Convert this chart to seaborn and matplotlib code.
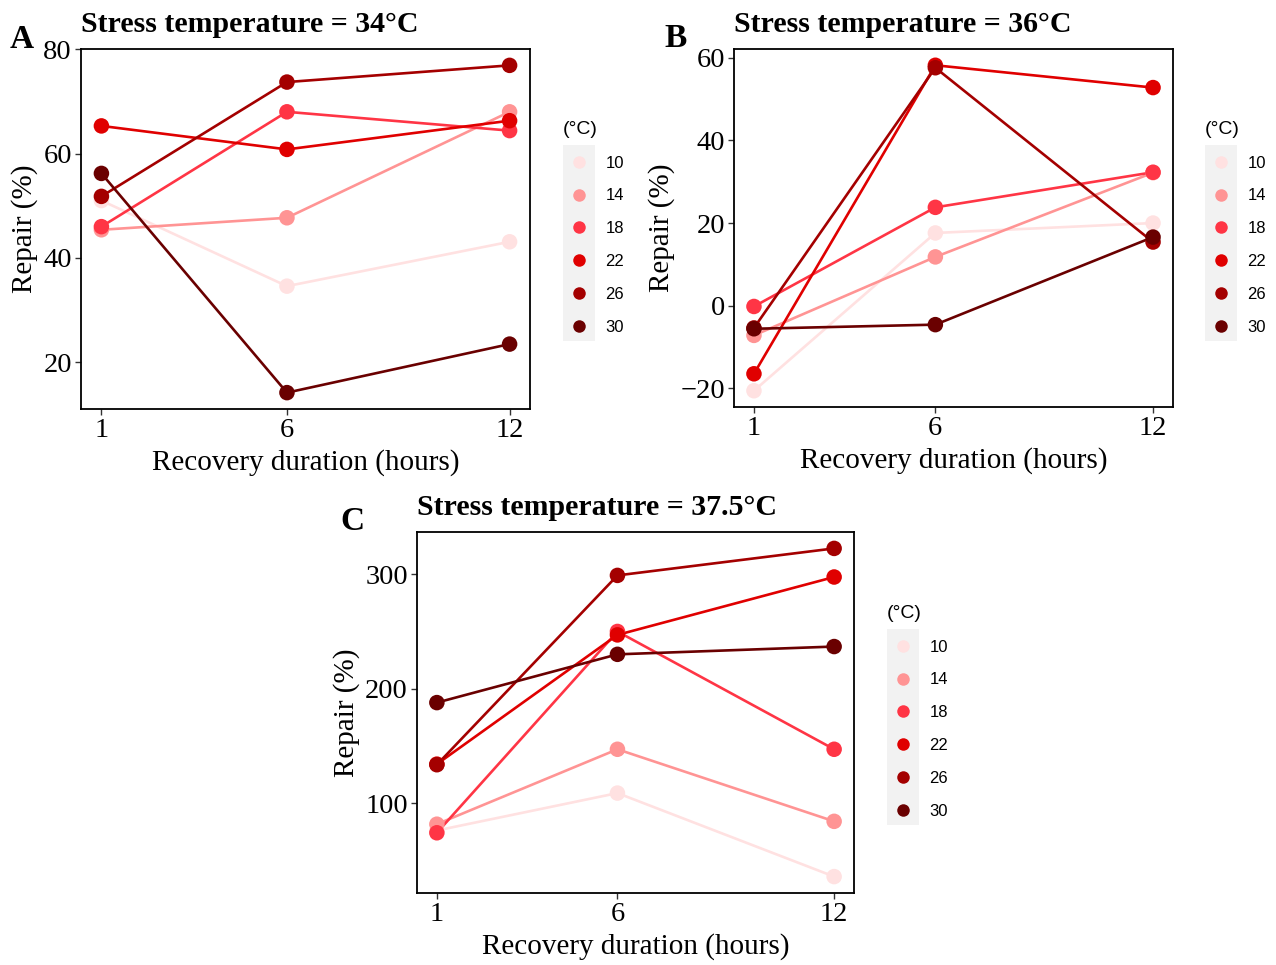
import numpy as np
import pandas as pd
import matplotlib
matplotlib.use("Agg")
import matplotlib.pyplot as plt
from matplotlib.lines import Line2D
from matplotlib.patches import Rectangle
import seaborn as sns

# ---------------- data ----------------
hours = [1, 6, 12]
acclim_temps = [10, 14, 18, 22, 26, 30]
palette_colors = ["#FFE1E1", "#FF9494", "#FF3545", "#E00000", "#A40000", "#6A0000"]

# Stress temperature = 34 °C  (values at 1, 6, 12 h)
repair_34_t10 = [51.0, 34.6, 43.1]
repair_34_t14 = [45.4, 47.7, 68.0]
repair_34_t18 = [46.0, 68.0, 64.4]
repair_34_t22 = [65.3, 60.8, 66.3]
repair_34_t26 = [51.8, 73.7, 76.9]
repair_34_t30 = [56.2, 14.2, 23.5]

# Stress temperature = 36 °C
repair_36_t10 = [-20.6, 17.6, 20.0]
repair_36_t14 = [-7.2, 11.8, 32.2]
repair_36_t18 = [-0.2, 23.8, 32.3]
repair_36_t22 = [-16.5, 58.2, 52.8]
repair_36_t26 = [-5.4, 57.6, 15.4]
repair_36_t30 = [-5.6, -4.6, 16.6]

# Stress temperature = 37.5 °C
repair_375_t10 = [76.0, 108.7, 35.7]
repair_375_t14 = [81.5, 147.0, 84.0]
repair_375_t18 = [74.0, 250.0, 147.0]
repair_375_t22 = [134.0, 247.0, 297.6]
repair_375_t26 = [133.5, 299.0, 322.6]
repair_375_t30 = [187.8, 230.0, 236.8]

panels = [
    ("A", "Stress temperature = 34°C",
     [repair_34_t10, repair_34_t14, repair_34_t18, repair_34_t22, repair_34_t26, repair_34_t30],
     [20, 40, 60, 80]),
    ("B", "Stress temperature = 36°C",
     [repair_36_t10, repair_36_t14, repair_36_t18, repair_36_t22, repair_36_t26, repair_36_t30],
     [-20, 0, 20, 40, 60]),
    ("C", "Stress temperature = 37.5°C",
     [repair_375_t10, repair_375_t14, repair_375_t18, repair_375_t22, repair_375_t26, repair_375_t30],
     [100, 200, 300]),
]

def make_df(series):
    rows = []
    for t, vals in zip(acclim_temps, series):
        for h, v in zip(hours, vals):
            rows.append({"hours": h, "temp": str(t), "repair": v})
    return pd.DataFrame(rows)

# ---------------- style ----------------
sns.set_theme(style="white")
plt.rcParams["font.family"] = ["Liberation Serif", "DejaVu Serif"]
plt.rcParams["text.color"] = "black"
plt.rcParams["axes.labelcolor"] = "black"
plt.rcParams["axes.titlecolor"] = "black"
palette = {str(t): c for t, c in zip(acclim_temps, palette_colors)}
hue_order = [str(t) for t in acclim_temps]

W, H = 1276, 965
fig = plt.figure(figsize=(W / 100, H / 100), dpi=100)

def px_axes(left, top, right, bottom):
    return fig.add_axes([left / W, 1 - bottom / H, (right - left) / W, (bottom - top) / H])

layout = [
    dict(ax=(81, 49, 530, 409), leg=(563, 121), rect=(563, 145, 595, 341), letter=(10, 48)),
    dict(ax=(734, 49, 1173, 407), leg=(1205, 121), rect=(1205, 145, 1237, 341), letter=(664, 47)),
    dict(ax=(417, 532, 854, 893), leg=(887, 605), rect=(887, 629, 919, 825), letter=(340, 530)),
]

for (letter, title, series, yticks), lay in zip(panels, layout):
    df = make_df(series)
    ax = px_axes(*lay["ax"])
    sns.lineplot(data=df, x="hours", y="repair", hue="temp", hue_order=hue_order,
                 palette=palette, linewidth=1.9, legend=False, ax=ax, estimator=None)
    sns.scatterplot(data=df, x="hours", y="repair", hue="temp", hue_order=hue_order,
                    palette=palette, s=125, linewidth=0, legend=False, ax=ax, zorder=3)
    ax.set_xticks(hours)
    ax.set_yticks(yticks)
    ax.tick_params(axis="both", which="both", direction="out", length=4, width=1.0,
                   color="#333333", labelsize=20.5, labelcolor="black", pad=2.5,
                   bottom=True, left=True)
    for sp in ax.spines.values():
        sp.set_color("black")
        sp.set_linewidth(1.3)
    ax.set_xlabel("Recovery duration (hours)", fontsize=21, labelpad=4)
    ax.set_ylabel("Repair (%)", fontsize=21, labelpad=4)
    ax.set_title(title, fontsize=21.5, fontweight="bold", loc="left", pad=12, x=0.0)
    fig.text(lay["letter"][0] / W, 1 - lay["letter"][1] / H, letter,
             fontsize=24, fontweight="bold", ha="left", va="baseline")

    # legend: grey key background + point keys
    x0, y0, x1, y1 = lay["rect"]
    fig.patches.append(Rectangle((x0 / W, 1 - y1 / H), (x1 - x0) / W, (y1 - y0) / H,
                                 transform=fig.transFigure, facecolor="#F2F2F2",
                                 edgecolor="none", zorder=0))
    handles = [Line2D([], [], marker="o", linestyle="none", markersize=9,
                      markerfacecolor=palette[t], markeredgewidth=0) for t in hue_order]
    lx, ly = lay["leg"]
    fig.legend(handles, hue_order, title="(°C)", loc="upper left",
               bbox_to_anchor=(lx / W, 1 - ly / H), bbox_transform=fig.transFigure,
               frameon=False, borderpad=0, borderaxespad=0,
               handlelength=1.92, handletextpad=0.62, labelspacing=1.065,
               prop={"family": "Liberation Sans", "size": 12},
               title_fontproperties={"family": "Liberation Sans", "size": 14},
               alignment="left")

fig.savefig("out.png", dpi=100, facecolor="white")
